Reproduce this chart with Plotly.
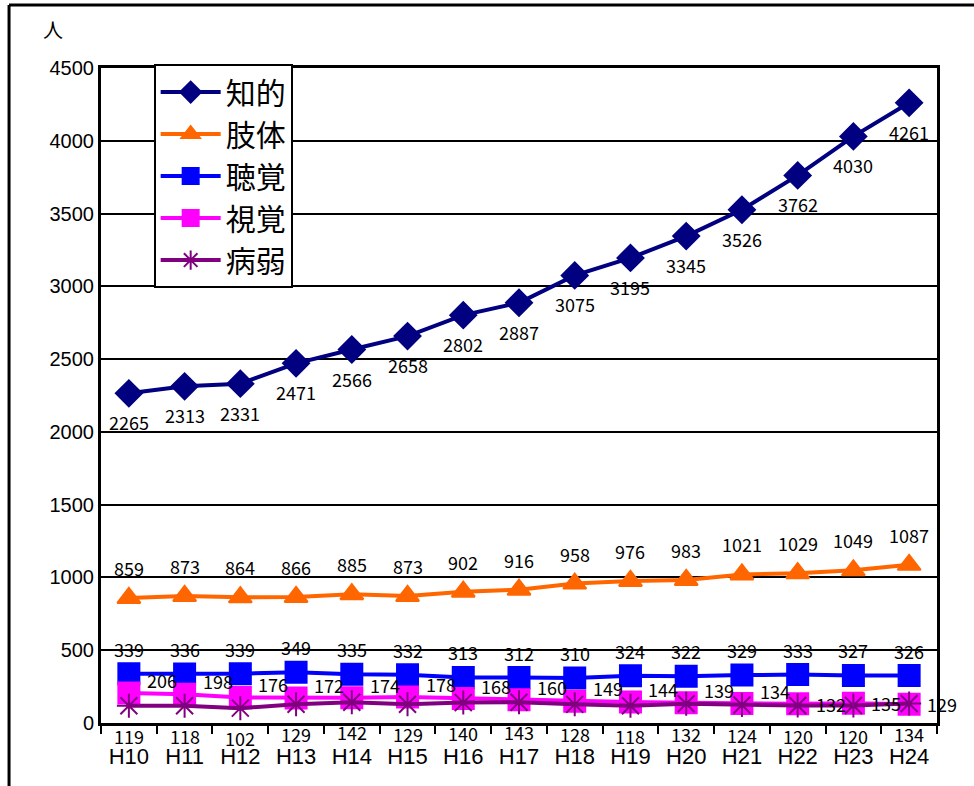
import plotly.graph_objects as go

years = ["H10","H11","H12","H13","H14","H15","H16","H17","H18","H19","H20","H21","H22","H23","H24"]
chiteki = [2265, 2313, 2331, 2471, 2566, 2658, 2802, 2887, 3075, 3195, 3345, 3526, 3762, 4030, 4261]
shitai = [859, 873, 864, 866, 885, 873, 902, 916, 958, 976, 983, 1021, 1029, 1049, 1087]
choukaku = [339, 336, 339, 349, 335, 332, 313, 312, 310, 324, 322, 329, 333, 327, 326]
shikaku = [206, 198, 176, 172, 174, 178, 168, 160, 149, 144, 139, 134, 132, 135, 129]
byoujaku = [119, 118, 102, 129, 142, 129, 140, 143, 128, 118, 132, 124, 120, 120, 134]

FONT = "Noto Sans CJK JP"
lbl = dict(family=FONT, size=18, color="black")

series = [
    ("知的", chiteki, "#000080", dict(symbol="diamond", size=20)),
    ("肢体", shitai, "#FF6600", dict(symbol="triangle-up", size=20)),
    ("聴覚", choukaku, "#0000FF", dict(symbol="square", size=21)),
    ("視覚", shikaku, "#FF00FF", dict(symbol="square", size=21)),
    ("病弱", byoujaku, "#800080", dict(symbol="asterisk-open", size=20)),
]

fig = go.Figure()
for name, vals, col, mk in series:
    marker = dict(mk, color=col, line=dict(color=col, width=2))
    fig.add_trace(go.Scatter(x=years, y=vals, name=name, mode="lines+markers",
                             line=dict(color=col, width=4), marker=marker, cliponaxis=False))

annotations = []
def add_labels(vals, xshift, yshift):
    for i, (yr, v) in enumerate(zip(years, vals)):
        xs = xshift[i] if isinstance(xshift, list) else xshift
        ys = yshift[i] if isinstance(yshift, list) else yshift
        annotations.append(dict(x=yr, y=v, xref="x", yref="y", text=str(v), showarrow=False,
                                xshift=xs, yshift=ys, font=lbl))

add_labels(chiteki, 0, -29)
add_labels(shitai, 0, 30)
add_labels(choukaku, 0, 25)
add_labels(shikaku, 33, [13] * 12 + [0] * 3)
add_labels(byoujaku, 0, -30)

annotations.append(dict(text="人", xref="paper", yref="paper", x=-0.058, y=1.033, showarrow=False,
                        xanchor="center", yanchor="bottom", font=dict(family=FONT, size=20)))

fig.update_layout(
    width=974, height=786,
    margin=dict(l=101, r=37, t=68, b=63, autoexpand=False),
    paper_bgcolor="white", plot_bgcolor="white",
    font=dict(family=FONT, color="black"),
    showlegend=True,
    legend=dict(x=0.063, y=1.006, xanchor="left", yanchor="top",
                bordercolor="black", borderwidth=2, bgcolor="white",
                font=dict(family=FONT, size=30), tracegroupgap=0, itemwidth=60),
    xaxis=dict(type="category", showline=True, linecolor="black", linewidth=3, mirror=True,
               ticks="outside", tickson="boundaries", ticklen=8, tickwidth=2, tickcolor="black",
               tickfont=dict(family="Liberation Sans", size=22), showgrid=False, range=[-0.5, 14.5],
               ticklabelstandoff=12, automargin=False),
    yaxis=dict(range=[0, 4500], dtick=500, showline=True, linecolor="black", linewidth=3, mirror=True,
               gridcolor="black", gridwidth=1.5, ticks="", tickfont=dict(family="Liberation Sans", size=20),
               zeroline=False, automargin=False),
    annotations=annotations,
    shapes=[dict(type="line", xref="paper", yref="paper", x0=-0.11, x1=-0.11, y0=1.096, y1=-0.2,
                 line=dict(color="black", width=3)),
            dict(type="line", xref="paper", yref="paper", x0=-0.11, x1=1.1, y0=1.096, y1=1.096,
                 line=dict(color="black", width=3))],
)
fig.write_html("out.html")
